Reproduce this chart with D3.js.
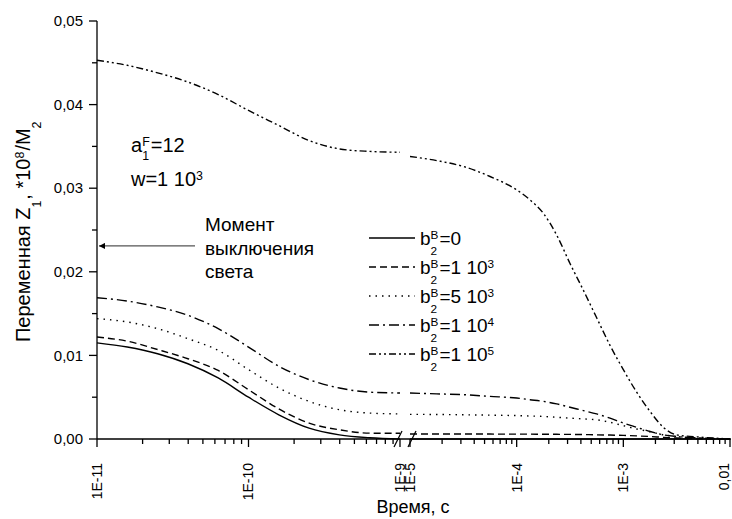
<!DOCTYPE html>
<html>
<head>
  <meta charset="utf-8">
  <title>Z1 vs time</title>
  <style>
    body { margin: 0; background: #fff; }
    svg text { font-family: "Liberation Sans", Arial, sans-serif; fill: #000; }
    .curve { fill: none; stroke: #000; stroke-width: 1.4; }
  </style>
</head>
<body>
<script src="https://d3js.org/d3.v7.min.js"></script>
<script>
  var width = 732,
      height = 519;

  // time exponents (log10 of seconds) for the two pieces of the broken axis
  var expLeft  = [-11, -10.8, -10.6, -10.4, -10.2, -10, -9.8, -9.6, -9.4, -9.2, -9];
  var expRight = [-5, -4.75, -4.5, -4.25, -4, -3.875, -3.75, -3.625, -3.5, -3.375, -3.25,
                  -3.125, -3, -2.875, -2.75, -2.625, -2.5, -2.25, -2];

  var legendLabels = ['0', '1 10', '5 10', '1 10', '1 10'];
  var legendPowers = ['', '3', '3', '4', '5'];
  var dashes = [null, '7,4', '1.5,5', '10,4,2,4', '7,3,2,3,2,3'];

  // Z1 values, left piece (1E-11 .. 1E-9)
  var b0Left   = [0.0115, 0.0110, 0.0102, 0.0090, 0.0073, 0.0050, 0.0029, 0.0013, 0.0005, 0.00015, 0.0];
  var b1e3Left = [0.0122, 0.0117, 0.0107, 0.0096, 0.0082, 0.0059, 0.0036, 0.0019, 0.0011, 0.0007, 0.00068];
  var b5e3Left = [0.0144, 0.0140, 0.0132, 0.0120, 0.0106, 0.0083, 0.0061, 0.0045, 0.0035, 0.0031, 0.0030];
  var b1e4Left = [0.0169, 0.0165, 0.0158, 0.0148, 0.0132, 0.0110, 0.0087, 0.0071, 0.0061, 0.0056, 0.0055];
  var b1e5Left = [0.0453, 0.0447, 0.0438, 0.0427, 0.0412, 0.0393, 0.0375, 0.0357, 0.0347, 0.0344, 0.0343];

  // Z1 values, right piece (1E-5 .. 0,01)
  var b0Right   = [0, 0, 0, 0, 0, 0, 0, 0, 0, 0, 0, 0, 0, 0, 0, 0, 0, 0, 0];
  var b1e3Right = [0.0006, 0.0006, 0.0006, 0.00059, 0.00058, 0.00058, 0.00057, 0.00056, 0.00055, 0.00053,
                   0.0005, 0.00047, 0.00043, 0.00037, 0.0003, 0.0002, 0.00012, 0.00003, 0];
  var b5e3Right = [0.00295, 0.00293, 0.0029, 0.00285, 0.0028, 0.00275, 0.0027, 0.0026, 0.0025, 0.0024,
                   0.0023, 0.002, 0.0016, 0.0012, 0.00087, 0.0005, 0.0003, 0.0001, 0];
  var b1e4Right = [0.0055, 0.0054, 0.0053, 0.0051, 0.0049, 0.0047, 0.0045, 0.0042, 0.0038, 0.0034,
                   0.0030, 0.0025, 0.0019, 0.0014, 0.0009, 0.0005, 0.0003, 0.0001, 0];
  var b1e5Right = [0.0338, 0.0333, 0.0326, 0.0314, 0.0298, 0.0286, 0.0270, 0.0244, 0.0210, 0.0178,
                   0.0145, 0.0112, 0.0083, 0.0056, 0.0033, 0.0014, 0.0005, 0.0002, 0];

  var seriesLeft  = [b0Left, b1e3Left, b5e3Left, b1e4Left, b1e5Left];
  var seriesRight = [b0Right, b1e3Right, b5e3Right, b1e4Right, b1e5Right];

  var yTicks = [0, 0.01, 0.02, 0.03, 0.04, 0.05];
  var yTickLabels = ['0,00', '0,01', '0,02', '0,03', '0,04', '0,05'];
  var xLeftTicks = [1e-11, 1e-10, 1e-9];
  var xLeftLabels = ['1E-11', '1E-10', '1E-9'];
  var xRightTicks = [1e-5, 1e-4, 1e-3, 1e-2];
  var xRightLabels = ['1E-5', '1E-4', '1E-3', '0,01'];

  var arrowLevel = 0.0231;

  var svg = d3.select('body')
    .append('svg')
    .attr('width', width)
    .attr('height', height);

  var xLeft = d3.scaleLog().domain([1e-11, 1e-9]).range([97, 400]);
  var xRight = d3.scaleLog().domain([1e-5, 1e-2]).range([410, 730]);
  var y = d3.scaleLinear().domain([0, 0.05]).range([439, 21]);

  // minor ticks
  function minors(scale) {
    var d = scale.domain(), out = [];
    for (var e = Math.round(Math.log10(d[0])); e < Math.round(Math.log10(d[1])); e++) {
      for (var k = 2; k <= 9; k++) out.push(k * Math.pow(10, e));
    }
    return out;
  }

  var axes = svg.append('g').attr('stroke', '#000').attr('stroke-width', 1.3);

  // y axis
  axes.append('line').attr('x1', 97).attr('x2', 97).attr('y1', y(0.05)).attr('y2', y(0));
  var yMinor = d3.range(0.005, 0.05, 0.01);
  axes.selectAll('.ymaj').data(yTicks).enter().append('line')
    .attr('x1', 89).attr('x2', 97).attr('y1', function(d) { return y(d); }).attr('y2', function(d) { return y(d); });
  axes.selectAll('.ymin').data(yMinor).enter().append('line')
    .attr('x1', 92).attr('x2', 97).attr('y1', function(d) { return y(d); }).attr('y2', function(d) { return y(d); });

  svg.selectAll('.ylab').data(yTicks).enter().append('text')
    .attr('x', 83).attr('y', function(d) { return y(d); })
    .attr('dy', '0.35em').attr('text-anchor', 'end')
    .style('font-size', '15px')
    .text(function(d, i) { return yTickLabels[i]; });

  // x axis (broken)
  axes.append('line').attr('x1', 97).attr('x2', 731).attr('y1', y(0)).attr('y2', y(0));

  [[xLeft, xLeftTicks, xLeftLabels], [xRight, xRightTicks, xRightLabels]].forEach(function(p) {
    var sc = p[0];
    axes.selectAll(null).data(p[1]).enter().append('line')
      .attr('x1', function(d) { return sc(d); }).attr('x2', function(d) { return sc(d); })
      .attr('y1', y(0)).attr('y2', y(0) + 8);
    axes.selectAll(null).data(minors(sc)).enter().append('line')
      .attr('x1', function(d) { return sc(d); }).attr('x2', function(d) { return sc(d); })
      .attr('y1', y(0)).attr('y2', y(0) + 5);
    svg.selectAll(null).data(p[1]).enter().append('text')
      .attr('transform', function(d) {
        var lx = Math.min(sc(d), width - 8); // keep the last label inside the page
        return 'translate(' + lx + ',' + 463 + ') rotate(-90)';
      })
      .attr('dy', '0.35em').attr('text-anchor', 'end')
      .style('font-size', '14px')
      .text(function(d, i) { return p[2][i]; });
  });

  // break marks
  [xLeft(1e-9) - 2, xRight(1e-5) + 2].forEach(function(bx) {
    svg.append('line')
      .attr('x1', bx - 4).attr('y1', y(0) + 8).attr('x2', bx + 4).attr('y2', y(0) - 8)
      .attr('stroke', '#000').attr('stroke-width', 1.3);
  });

  // curves
  var plot = svg.append('g');
  function drawPiece(scale, exps, vals, dash) {
    var pts = exps.map(function(e, i) { return [scale(Math.pow(10, e)), y(vals[i])]; });
    plot.append('path')
      .attr('class', 'curve')
      .attr('d', d3.line().curve(d3.curveMonotoneX)(pts))
      .attr('stroke-dasharray', dash);
  }
  for (var s = 0; s < seriesLeft.length; s++) {
    drawPiece(xLeft, expLeft, seriesLeft[s], dashes[s]);
    drawPiece(xRight, expRight, seriesRight[s], dashes[s]);
  }

  // rich text helper: parts = [[text, kind]], kind: n | sub | sup | both (sup + sub stacked)
  function rich(g, x, yb, size, parts, subShift) {
    var cx = x;
    var sub = subShift || 0.53;
    parts.forEach(function(p) {
      if (p[1] === 'n') {
        var t = g.append('text').attr('x', cx).attr('y', yb).style('font-size', size + 'px').text(p[0]);
        cx += t.node().getComputedTextLength();
      } else {
        var small = size * 0.62, w = 0;
        if (p[1] === 'sup' || p[1] === 'both') {
          var t1 = g.append('text').attr('x', cx).attr('y', yb - size * 0.3).style('font-size', small + 'px').text(p[0]);
          w = Math.max(w, t1.node().getComputedTextLength());
        }
        if (p[1] === 'sub' || p[1] === 'both') {
          var t2 = g.append('text').attr('x', cx).attr('y', yb + size * sub)
            .style('font-size', small + 'px').text(p[1] === 'both' ? p[2] : p[0]);
          w = Math.max(w, t2.node().getComputedTextLength());
        }
        cx += w + 1;
      }
    });
    return cx;
  }

  // y axis title
  var yt = svg.append('g').attr('transform', 'translate(30,342) rotate(-90)');
  rich(yt, 0, 0, 20, [['Переменная Z', 'n'], ['1', 'sub'], [', *10', 'n'], ['8', 'sup'], ['/M', 'n'], ['2', 'sub']]);

  svg.append('text')
    .attr('x', 413).attr('y', 513)
    .attr('text-anchor', 'middle')
    .style('font-size', '18px')
    .text('Время, с');

  // parameters
  rich(svg, 131, 152, 20, [['a', 'n'], ['F', 'both', '1'], ['=12', 'n']], 0.42);
  rich(svg, 131, 186, 20, [['w=1 10', 'n'], ['3', 'sup']]);

  // moment marker
  svg.append('defs').append('marker')
    .attr('id', 'ah').attr('viewBox', '0 0 10 10').attr('refX', 10).attr('refY', 5)
    .attr('markerWidth', 9).attr('markerHeight', 6).attr('orient', 'auto-start-reverse')
    .attr('markerUnits', 'userSpaceOnUse')
    .append('path').attr('d', 'M0,0L10,5L0,10z').attr('fill', '#000');
  svg.append('line')
    .attr('x1', 195).attr('x2', 99)
    .attr('y1', y(arrowLevel)).attr('y2', y(arrowLevel))
    .attr('stroke', '#555').attr('stroke-width', 1.3)
    .attr('marker-end', 'url(#ah)');
  ['Момент', 'выключения', 'света'].forEach(function(t, i) {
    svg.append('text').attr('x', 205).attr('y', 231 + i * 23.5)
      .style('font-size', '19px').text(t);
  });

  // legend
  var lg = svg.append('g');
  legendLabels.forEach(function(lab, i) {
    var ly = 238 + i * 29;
    lg.append('line').attr('x1', 369).attr('x2', 415).attr('y1', ly).attr('y2', ly)
      .attr('class', 'curve').attr('stroke-dasharray', dashes[i]);
    var parts = [['b', 'n'], ['B', 'both', '2'], ['=' + lab, 'n']];
    if (legendPowers[i]) parts.push([legendPowers[i], 'sup']);
    rich(lg, 420, ly + 6.5, 19, parts);
  });
</script>
</body>
</html>
